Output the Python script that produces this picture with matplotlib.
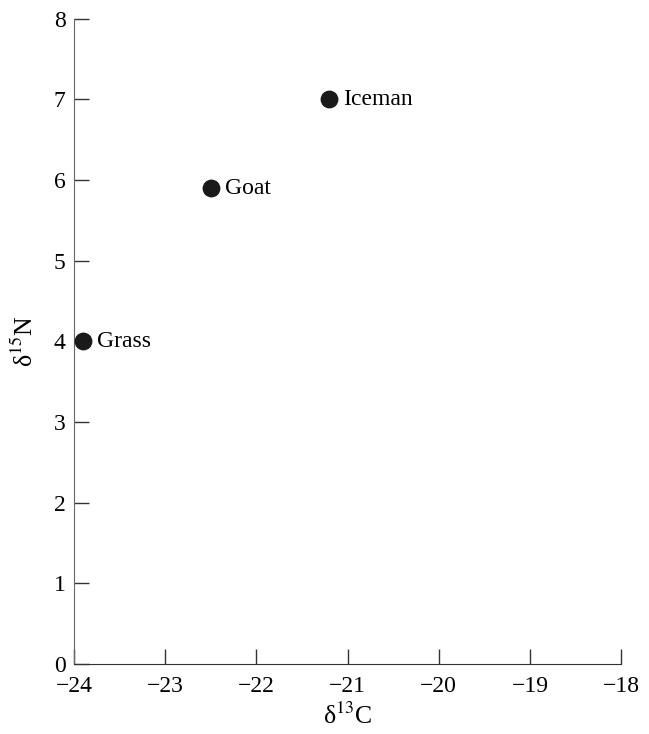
import matplotlib.pyplot as plt

plt.rcParams['font.family'] = ['Liberation Serif', 'DejaVu Serif']
plt.rcParams['mathtext.fontset'] = 'stix'

names = ["Grass", "Goat", "Iceman"]
d13c = [-23.9, -22.5, -21.2]
d15n = [4.0, 5.9, 7.0]

fig = plt.figure(figsize=(6.49, 7.34), dpi=100)
ax = fig.add_axes([0.114, 0.0954, 0.843, 0.879])

ax.scatter(d13c, d15n, s=140, color='#1a1a1a', zorder=3, clip_on=False)
for n, x, y in zip(names, d13c, d15n):
    ax.annotate(n, (x, y), xytext=(10, 0), textcoords='offset points',
                va='center', ha='left', fontsize=17)

ax.set_xlim(-24, -18)
ax.set_ylim(0, 8)
ax.set_xticks(range(-24, -17))
ax.set_xticklabels(["\u2212%d" % abs(v) for v in range(-24, -17)])
ax.set_yticks(range(0, 9))

for s in ['top', 'right']:
    ax.spines[s].set_visible(False)
ax.spines['left'].set_color('#666666')
ax.spines['bottom'].set_color('#333333')
ax.tick_params(direction='in', length=11, width=1, labelsize=17, colors='#333333',
               labelcolor='black')
ax.tick_params(axis='x', pad=9)
ax.tick_params(axis='y', pad=6)

ax.set_xlabel("\u03b4$^{13}$C", fontsize=18.5, labelpad=4)
ax.set_ylabel("\u03b4$^{15}$N", fontsize=18.5, labelpad=11)

fig.savefig("out.png")
plt.close()
